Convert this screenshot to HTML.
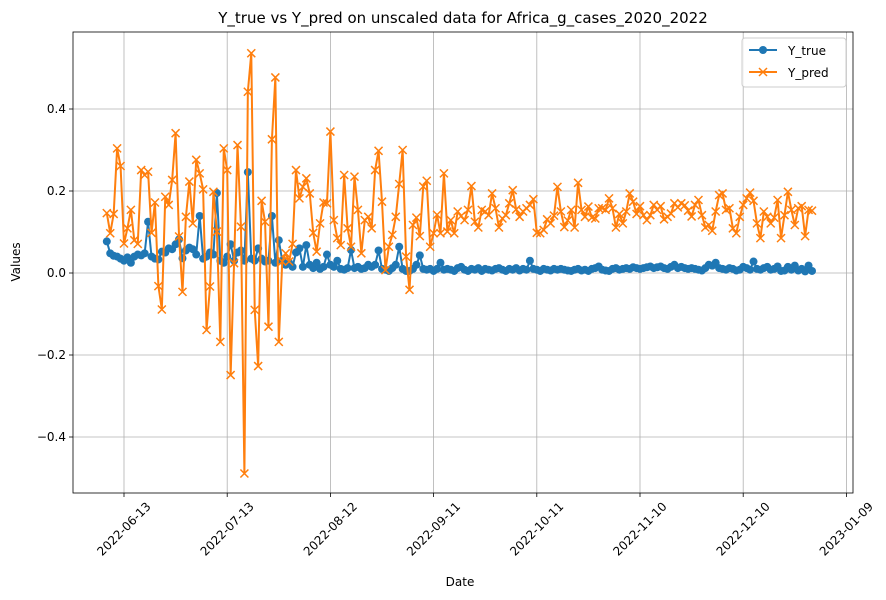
<!DOCTYPE html>
<html><head><meta charset="utf-8"><style>
body{margin:0;background:#fff;}
svg{display:block;font-family:"DejaVu Sans","Liberation Sans",sans-serif;}
</style></head><body>
<svg id="chart" width="886" height="600" xmlns="http://www.w3.org/2000/svg">
<rect x="0" y="0" width="886" height="600" fill="#fff"/>
<text x="463" y="23" text-anchor="middle" font-size="15" fill="#000">Y_true vs Y_pred on unscaled data for Africa_g_cases_2020_2022</text>
<g id="grid"></g>
<g id="series"></g>
<rect x="73" y="32" width="780" height="461" fill="none" stroke="#000" stroke-width="0.8"/>
<g id="axes"></g>
<text x="460" y="586" text-anchor="middle" font-size="12">Date</text>
<text transform="translate(20,262) rotate(-90)" text-anchor="middle" font-size="12">Values</text>
<g>
<rect x="742" y="38" width="104" height="49" rx="3" fill="#fff" fill-opacity="0.8" stroke="#ccc"/>
<g>
<line x1="749" y1="50" x2="777" y2="50" stroke="#1f77b4" stroke-width="2"/>
<circle cx="763" cy="50" r="4" fill="#1f77b4"/>
<text x="788" y="55" font-size="12">Y_true</text></g>
<g>
<line x1="749" y1="72" x2="777" y2="72" stroke="#ff7f0e" stroke-width="2"/>
<path d="M759,68L767,76M767,68L759,76" stroke="#ff7f0e" stroke-width="1.5"/>
<text x="788" y="77" font-size="12">Y_pred</text></g>
</g>
</svg>
<script>
const startDate = "2022-06-08";
const yPred = [
0.146,0.097,0.144,0.304,0.261,0.072,0.109,0.154,0.080,0.071,0.251,0.239,0.247,0.098,0.172,-0.032,-0.089,0.186,0.166,0.227,0.341,0.089,-0.046,0.137,0.223,0.121,0.276,0.243,0.204,-0.139,-0.033,0.198,
0.101,-0.168,0.304,0.251,-0.249,0.024,0.312,0.113,-0.489,0.442,0.536,-0.090,-0.227,0.176,0.125,-0.131,0.326,0.477,-0.168,0.028,0.048,0.028,0.071,0.251,0.182,0.210,0.231,0.194,0.098,0.052,0.121,0.172,0.170,
0.345,0.129,0.085,0.068,0.239,0.109,0.064,0.235,0.154,0.048,0.129,0.137,0.109,0.251,0.298,0.174,0.007,0.064,0.093,0.137,0.217,0.300,0.040,-0.041,0.117,0.135,0.090,0.211,0.225,0.064,0.097,0.142,0.097,0.243,
0.101,0.129,0.097,0.150,0.139,0.129,0.154,0.212,0.125,0.111,0.154,0.150,0.141,0.194,0.158,0.111,0.133,0.141,0.170,0.202,0.155,0.137,0.150,0.158,0.166,0.180,0.098,0.097,0.105,0.131,0.121,0.140,0.210,0.150,0.112,0.128,
0.154,0.111,0.220,0.154,0.137,0.162,0.135,0.133,0.158,0.158,0.154,0.182,0.158,0.111,0.144,0.121,0.150,0.194,0.174,0.144,0.163,0.141,0.129,0.141,0.166,0.154,0.163,0.131,0.137,0.145,0.170,0.160,0.170,0.165,0.152,0.138,
0.166,0.178,0.141,0.111,0.117,0.103,0.150,0.190,0.194,0.154,0.158,0.109,0.097,0.137,0.166,0.182,0.196,0.176,0.121,0.085,0.150,0.137,0.121,0.135,0.178,0.085,0.141,0.198,0.154,0.117,0.158,0.163,0.090,0.154,0.152
];
const yTrue = [
0.077,0.048,0.042,0.040,0.035,0.030,0.038,0.025,0.040,0.045,0.043,0.048,0.125,0.040,0.035,0.033,0.052,0.050,0.060,0.058,0.070,0.082,0.036,0.055,0.062,0.058,0.045,0.139,0.035,0.040,0.050,0.045,
0.195,0.030,0.025,0.040,0.070,0.030,0.050,0.055,0.030,0.246,0.035,0.030,0.060,0.035,0.028,0.030,0.139,0.025,0.080,0.030,0.020,0.025,0.015,0.050,0.060,0.015,0.068,0.020,0.012,0.025,0.010,0.015,0.045,
0.020,0.015,0.030,0.010,0.008,0.012,0.056,0.012,0.015,0.010,0.012,0.020,0.015,0.020,0.055,0.010,0.008,0.005,0.012,0.020,0.064,0.010,0.005,0.005,0.010,0.020,0.043,0.010,0.008,0.010,0.005,0.010,0.025,0.008,
0.010,0.008,0.005,0.012,0.015,0.008,0.005,0.010,0.008,0.012,0.005,0.010,0.008,0.006,0.010,0.012,0.008,0.005,0.010,0.008,0.012,0.006,0.010,0.008,0.030,0.010,0.008,0.005,0.010,0.008,0.006,0.010,0.008,0.010,0.008,0.006,
0.005,0.008,0.010,0.006,0.008,0.005,0.010,0.012,0.016,0.008,0.006,0.005,0.010,0.012,0.008,0.010,0.012,0.010,0.014,0.012,0.010,0.012,0.014,0.016,0.012,0.014,0.016,0.012,0.010,0.015,0.020,0.012,0.015,0.012,0.010,0.012,
0.010,0.008,0.006,0.012,0.020,0.018,0.025,0.012,0.010,0.008,0.012,0.010,0.006,0.008,0.015,0.012,0.008,0.028,0.010,0.008,0.012,0.015,0.008,0.010,0.016,0.005,0.006,0.015,0.008,0.018,0.006,0.010,0.004,0.018,0.005
];
const xTickLabels = ["2022-06-13","2022-07-13","2022-08-12","2022-09-11","2022-10-11","2022-11-10","2022-12-10","2023-01-09"];
const yTickValues = [-0.4,-0.2,0.0,0.2,0.4];
const yTickLabels = ["−0.4","−0.2","0.0","0.2","0.4"];

const NS="http://www.w3.org/2000/svg";
const refDay = Date.UTC(2022,5,13)/86400000;
function dayNum(s){const p=s.split("-");return Date.UTC(+p[0],+p[1]-1,+p[2])/86400000;}
function xScale(d){return 124 + (d-refDay)*103.2/30;}
function yScale(v){return 273 - v*410;}
function mk(tag,attrs,parent){const e=document.createElementNS(NS,tag);for(const k in attrs)e.setAttribute(k,attrs[k]);parent.appendChild(e);return e;}
const grid=document.getElementById("grid"), axes=document.getElementById("axes"), series=document.getElementById("series");

xTickLabels.forEach(function(lab){
  const x=xScale(dayNum(lab));
  const gl=mk("line",{x1:x,y1:32,x2:x,y2:493,stroke:"#b0b0b0","stroke-width":0.8},grid);
  
  
  const t=mk("line",{x1:x,y1:493,x2:x,y2:497,stroke:"#000","stroke-width":0.8},axes);
  
  
  const cy=529;
  const tx=mk("text",{x:x,y:cy+4,"font-size":12,"text-anchor":"middle",transform:"rotate(-45 "+x+" "+cy+")"},axes);
  tx.textContent=lab;
  
  
});
yTickValues.forEach(function(v,i){
  const y=yScale(v);
  const gl=mk("line",{x1:73,y1:y,x2:853,y2:y,stroke:"#b0b0b0","stroke-width":0.8},grid);
  
  
  const t=mk("line",{x1:69,y1:y,x2:73,y2:y,stroke:"#000","stroke-width":0.8},axes);
  
  
  const tx=mk("text",{x:66,y:y+4,"font-size":12,"text-anchor":"end"},axes);
  tx.textContent=yTickLabels[i];
  
  
});
const d0=dayNum(startDate);
function pts(arr){return arr.map(function(v,i){return [xScale(d0+i),yScale(v)];});}
const pT=pts(yTrue), pP=pts(yPred);
const lT=mk("polyline",{points:pT.map(p=>p.join(",")).join(" "),fill:"none",stroke:"#1f77b4","stroke-width":2,"stroke-linejoin":"round"},series);


pT.forEach(function(p){
  const c=mk("circle",{cx:p[0],cy:p[1],r:4,fill:"#1f77b4"},series);
  
  
});
const lP=mk("polyline",{points:pP.map(p=>p.join(",")).join(" "),fill:"none",stroke:"#ff7f0e","stroke-width":2,"stroke-linejoin":"round"},series);


pP.forEach(function(p){
  const m=mk("path",{d:"M"+(p[0]-4)+","+(p[1]-4)+"L"+(p[0]+4)+","+(p[1]+4)+"M"+(p[0]+4)+","+(p[1]-4)+"L"+(p[0]-4)+","+(p[1]+4),stroke:"#ff7f0e","stroke-width":1.5},series);
  
  
});
</script>
</body></html>
